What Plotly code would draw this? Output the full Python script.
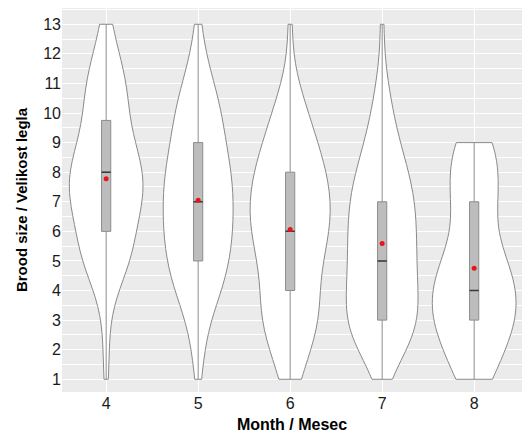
import numpy as np
import plotly.graph_objects as go

# Brood size values and estimated frequency per month (read from the violin shapes)
brood_sizes = list(range(1, 14))
months = ["4", "5", "6", "7", "8"]
counts_m4 = [1, 1, 1, 3, 10, 9, 13, 14, 9, 7, 8, 4, 2]
counts_m5 = [1, 2, 3, 8, 10, 11, 11, 11, 8, 8, 5, 2, 1]
counts_m6 = [3, 5, 9, 7, 8, 11, 11, 10, 7, 5, 2, 0, 1]
counts_m7 = [1, 8, 12, 10, 10, 10, 10, 8, 5, 3, 2, 0, 1]
counts_m8 = [4, 6, 9, 9, 7, 3, 5, 5, 5, 0, 0, 0, 0]
all_counts = [counts_m4, counts_m5, counts_m6, counts_m7, counts_m8]

# styling
VIOLIN_WIDTHS = [0.80, 0.76, 0.87, 0.78, 0.91]
VIOLIN_LINE = "#8a8a8a"
BOX_FILL = "#bdbdbd"
BOX_LINE = "#8c8c8c"
MEDIAN_LINE = "#3a3a3a"
MEAN_COLOR = "#e8141c"
FONT = "Liberation Sans, Arial, sans-serif"

fig = go.Figure()

samples = [np.repeat(brood_sizes, cnt).astype(float) for cnt in all_counts]

def nrd0(x):
    sd = np.std(x, ddof=1)
    q1, q3 = np.percentile(x, [25, 75])
    lo = min(sd, (q3 - q1) / 1.34)
    return 0.9 * lo * len(x) ** (-0.2)

# violins
for m, y, w in zip(months, samples, VIOLIN_WIDTHS):
    fig.add_trace(go.Violin(
        x=[m] * len(y), y=y, name=m, scalemode="width",
        width=w, spanmode="hard", bandwidth=nrd0(y), points=False,
        fillcolor="white", line=dict(color=VIOLIN_LINE, width=1),
        box_visible=False, meanline_visible=False, showlegend=False,
        hoverinfo="skip",
    ))

# boxes (type-7 quartiles like R)
for m, y in zip(months, samples):
    q1, med, q3 = np.percentile(y, [25, 50, 75])
    iqr = q3 - q1
    lf = y[y >= q1 - 1.5 * iqr].min()
    uf = y[y <= q3 + 1.5 * iqr].max()
    fig.add_trace(go.Box(
        x=[m], q1=[q1], median=[med], q3=[q3], lowerfence=[lf], upperfence=[uf],
        width=0.1, whiskerwidth=0, fillcolor=BOX_FILL,
        line=dict(color=BOX_LINE, width=1), showlegend=False, hoverinfo="skip",
    ))
    fig.add_trace(go.Box(
        x=[m], q1=[med], median=[med], q3=[med], lowerfence=[med], upperfence=[med],
        width=0.1, whiskerwidth=0, fillcolor="rgba(0,0,0,0)",
        line=dict(color=MEDIAN_LINE, width=1.5), showlegend=False, hoverinfo="skip",
    ))

# means
fig.add_trace(go.Scatter(
    x=months, y=[float(np.mean(y)) for y in samples], mode="markers",
    marker=dict(color=MEAN_COLOR, size=5), showlegend=False, hoverinfo="skip",
))

# page body has an 8px offset, margins compensate for it
fig.update_layout(
    width=530, height=438,
    margin=dict(l=54, r=16, t=0, b=54),
    paper_bgcolor="white", plot_bgcolor="#ebebeb",
    violinmode="overlay", boxmode="overlay",
    font=dict(family=FONT, size=16, color="#1a1a1a"),
)
fig.update_xaxes(
    type="category", categoryorder="array", categoryarray=months,
    range=[-0.48, 4.52], showgrid=True, gridcolor="white", gridwidth=1,
    zeroline=False, showline=False, ticks="", automargin=False,
    tickfont=dict(size=16, color="#1a1a1a"),
    title=dict(text="<b>Month / Mesec</b>", font=dict(size=16, color="#000"), standoff=7),
)
fig.update_yaxes(
    range=[0.57, 13.55], tickmode="array", tickvals=brood_sizes,
    showgrid=True, gridcolor="white", gridwidth=1,
    minor=dict(dtick=0.5, tick0=0.5, showgrid=True, gridcolor="white", gridwidth=0.5),
    zeroline=False, showline=False, ticks="", automargin=False,
    tickfont=dict(size=16, color="#1a1a1a"),
    title=dict(text="<b>Brood size / Velikost legla</b>", font=dict(size=15, color="#000"), standoff=11),
)

fig.write_html("out.html")
